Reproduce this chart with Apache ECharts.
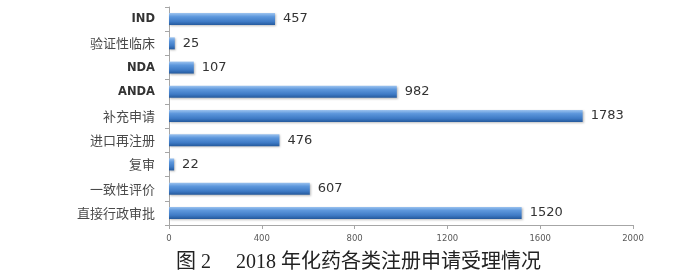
<!DOCTYPE html>
<html><head><meta charset="utf-8">
<script src="https://cdn.jsdelivr.net/npm/echarts@6/dist/echarts.min.js"></script>
<style>html,body{margin:0;padding:0;background:#fff}#c{width:700px;height:280px}</style>
</head><body><div id="c"></div>
<script>
const categories = ['直接行政审批','一致性评价','复审','进口再注册','补充申请','ANDA','NDA','验证性临床','IND'];
const values = [1520, 607, 22, 476, 1783, 982, 107, 25, 457];
const xTicks = [0, 400, 800, 1200, 1600, 2000];
const caption = '图 2\u2003 2018 年化药各类注册申请受理情况';

const chart = echarts.init(document.getElementById('c'));
chart.setOption({
  animation: false,
  grid: {left: 169, right: 67, top: 7, bottom: 55},
  xAxis: {
    type: 'value', min: xTicks[0], max: xTicks[xTicks.length-1], interval: 400,
    axisLine: {show: true, lineStyle: {color: '#a6a6a6', width: 1}},
    axisTick: {show: true, length: 4, lineStyle: {color: '#a6a6a6'}},
    splitLine: {show: false},
    axisLabel: {color: '#595959', fontSize: 8.5, fontFamily: 'DejaVu Sans', margin: 9, formatter: v => String(v)}
  },
  yAxis: {
    type: 'category', data: categories,
    axisLine: {show: true, lineStyle: {color: '#a6a6a6', width: 1}},
    axisTick: {show: true, length: 4, lineStyle: {color: '#a6a6a6'}},
    axisLabel: {
      color: '#4a4a4a', fontSize: 13, fontFamily: 'Noto Sans CJK SC', margin: 14,
      formatter: v => /^[A-Za-z]+$/.test(v) ? '{en|' + v + '}' : v,
      rich: {en: {fontSize: 11.5, fontWeight: 'bold', fontFamily: 'DejaVu Sans', color: '#333'}}
    }
  },
  series: [{
    type: 'bar', data: values, barWidth: 12,
    itemStyle: {
      color: new echarts.graphic.LinearGradient(0, 0, 0, 1, [
        {offset: 0, color: '#9cc3ef'},
        {offset: 0.3, color: '#5d97dc'},
        {offset: 0.7, color: '#3f7bc6'},
        {offset: 1, color: '#24599c'}
      ]),
      shadowColor: 'rgba(0,0,0,0.25)', shadowBlur: 2, shadowOffsetX: 1, shadowOffsetY: 1
    },
    label: {show: true, position: 'right', distance: 8, color: '#333', fontSize: 13, fontFamily: 'DejaVu Sans'}
  }],
  graphic: [{
    type: 'text', left: 176, top: 253,
    style: {text: caption, fill: '#222', fontSize: 20, fontFamily: '"Liberation Serif", "Noto Sans CJK SC"'}
  }]
});
</script></body></html>
